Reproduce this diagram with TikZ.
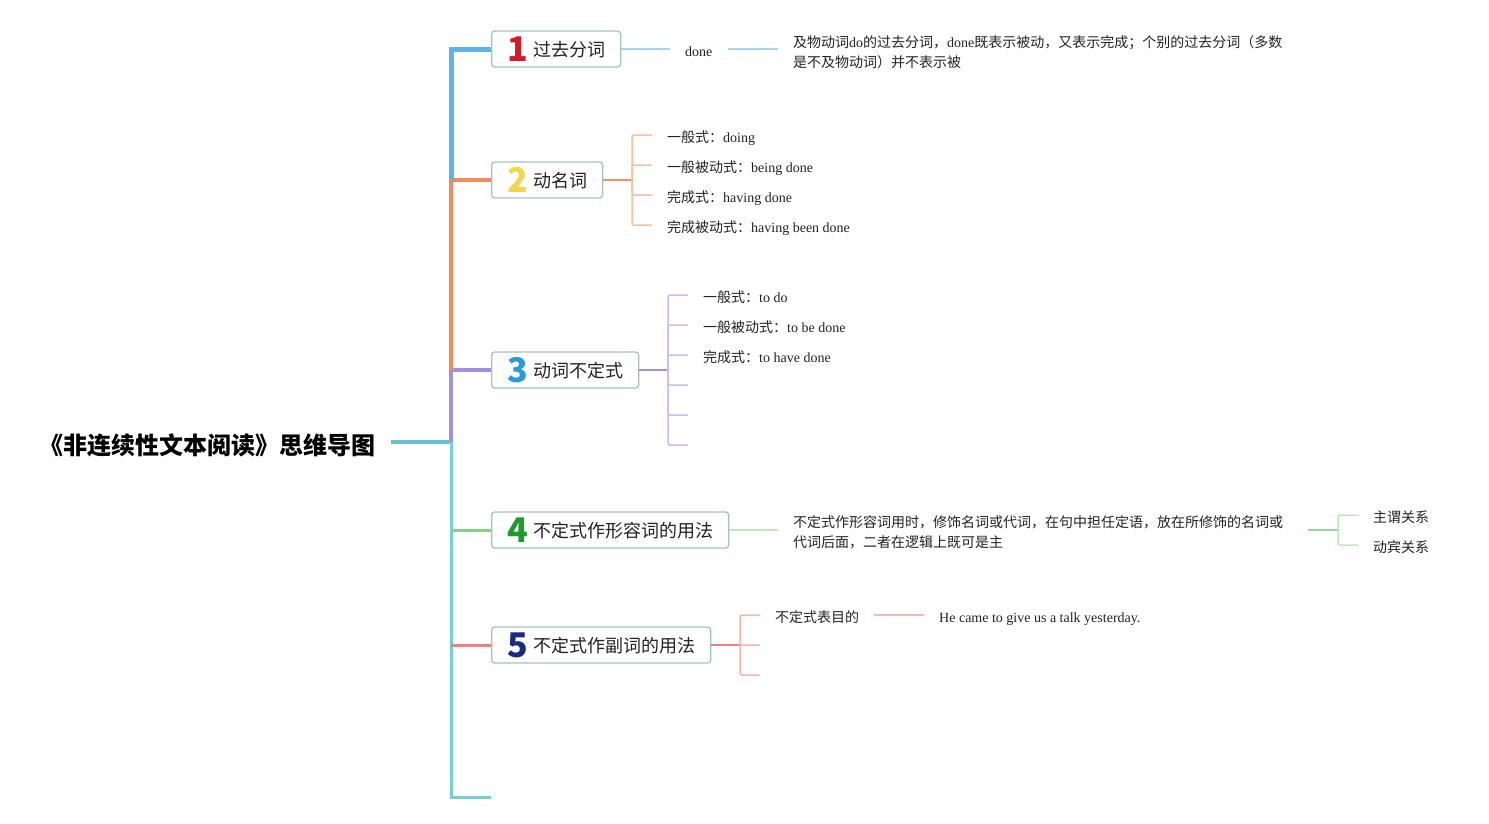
\documentclass[tikz,border=0pt]{standalone}
\usepackage{fontspec}
\setmainfont{Liberation Serif}
\newfontfamily\zhfont{Noto Sans CJK SC}
\newcommand\zh[1]{{\zhfont #1}}
\definecolor{txt}{HTML}{222222}
\definecolor{boxc}{HTML}{A3C4BC}
\definecolor{cblue}{HTML}{5EB2E6}
\definecolor{cbluel}{HTML}{A9D2EE}
\definecolor{corange}{HTML}{EE8C5E}
\definecolor{corangem}{HTML}{E8956C}
\definecolor{corangel}{HTML}{F7BFA3}
\definecolor{cpurple}{HTML}{A38FE0}
\definecolor{cpurplem}{HTML}{A68FD8}
\definecolor{cpurplel}{HTML}{CBBDEA}
\definecolor{cteal}{HTML}{74CED4}
\definecolor{ctealt}{HTML}{6CC0CE}
\definecolor{cgreen}{HTML}{86D08A}
\definecolor{cgreenm}{HTML}{9BD39B}
\definecolor{cgreenl}{HTML}{C2E6BC}
\definecolor{cred}{HTML}{F08080}
\definecolor{credl}{HTML}{F5B6B6}
\definecolor{dred}{HTML}{D7182A}
\definecolor{dyellow}{HTML}{F2D64B}
\definecolor{dblue}{HTML}{2A9AD8}
\definecolor{dgreen}{HTML}{1E9A2E}
\definecolor{dnavy}{HTML}{1B2A80}
\newcommand\numd[2]{\raisebox{-5pt}{\color{#1}\zhfont\bfseries\fontsize{34}{34}\selectfont #2}\hspace{5pt}}
\tikzset{
  topic/.style={draw=boxc, line width=1.3pt, rounded corners=3pt, fill=white,
    minimum height=36pt, anchor=west, inner xsep=0pt, inner ysep=0pt,
    font=\zhfont\fontsize{18}{20}\selectfont, text=txt},
  leaf/.style={anchor=west, inner xsep=15pt, inner ysep=0pt,
    font=\fontsize{14}{20}\selectfont, text=txt, align=left},
  leafone/.style={leaf, text height=16.5pt, text depth=2pt},
  brk/.style={line width=1.5pt, rounded corners=1.5pt},
}
\begin{document}
\begin{tikzpicture}[x=1pt,y=-1pt]
\path[use as bounding box] (0,0) rectangle (1489,823);

% title
\node[anchor=base east, inner xsep=15pt, inner ysep=0pt, text=black,
  font=\zhfont\bfseries\fontsize{24}{26}\selectfont] (title) at (391,454)
  {《非连续性文本阅读》思维导图};

% trunk coordinates
\coordinate (t1) at (451,49);
\coordinate (t2) at (451,180);
\coordinate (t3) at (451,370);
\coordinate (t0) at (451,442);
\coordinate (t4) at (451,530);
\coordinate (t5) at (451,645);
\coordinate (t6) at (451,797);
\coordinate (e6) at (491,797);

% topic boxes
\node[topic, minimum width=129pt] (b1) at (491,49) {\numd{dred}{1}过去分词};
\node[topic, minimum width=111pt] (b2) at (491,180) {\numd{dyellow}{2}动名词};
\node[topic, minimum width=147pt] (b3) at (491,370) {\numd{dblue}{3}动词不定式};
\node[topic, minimum width=237pt] (b4) at (491,530) {\numd{dgreen}{4}不定式作形容词的用法};
\node[topic, minimum width=219pt] (b5) at (491,645) {\numd{dnavy}{5}不定式作副词的用法};

% trunk lines
\draw[ctealt, line width=4pt] (title.east |- t0) -- (t0);
\draw[cteal, line width=3pt] (t0) -- (t6) -- (e6);
\draw[cpurple, line width=4pt] (t0) -- (t3) -- (b3.west);
\draw[corange, line width=3.5pt] (t3) -- (t2) -- (b2.west);
\draw[cblue, line width=5pt] (t2) -- (t1) -- (b1.west);
\draw[cgreen, line width=3pt] (t4) -- (b4.west);
\draw[cred, line width=3pt] (t5) -- (b5.west);

% branch 1
\node[leafone] (l10) at (670,49) {done};
\node[leaf] (l11) at (778,52) {\zh{及物动词}do\zh{的过去分词，}done\zh{既表示被动，又表示完成；个别的过去分词（多数}\\\zh{是不及物动词）并不表示被}};
\draw[cbluel, line width=1.5pt] (b1.east) -- (l10.west);
\draw[cbluel, line width=1.5pt] (l10.east) -- (l11.west |- l10.west);

% branch 2
\coordinate (k2) at (632,180);
\node[leafone] (l21) at (652,135) {\zh{一般式：}doing};
\node[leafone] (l22) at (652,165) {\zh{一般被动式：}being done};
\node[leafone] (l23) at (652,195) {\zh{完成式：}having done};
\node[leafone] (l24) at (652,225) {\zh{完成被动式：}having been done};
\draw[corangem, line width=2pt] (b2.east) -- (k2);
\foreach \n in {l21,l22,l23,l24} \draw[corangel, brk] (k2) |- (\n.west);

% branch 3
\coordinate (k3) at (668,370);
\node[leafone] (l31) at (688,295) {\zh{一般式：}to do};
\node[leafone] (l32) at (688,325) {\zh{一般被动式：}to be done};
\node[leafone] (l33) at (688,355) {\zh{完成式：}to have done};
\coordinate (l34) at (688,385);
\coordinate (l35) at (688,415);
\coordinate (l36) at (688,445);
\draw[cpurplem, line width=2pt] (b3.east) -- (k3);
\foreach \n in {l31,l32,l33} \draw[cpurplel, brk] (k3) |- (\n.west);
\foreach \n in {l34,l35,l36} \draw[cpurplel, brk] (k3) |- (\n);

% branch 4
\node[leaf, text width=490pt] (l41) at (778,532) {\zh{不定式作形容词用时，修饰名词或代词，在句中担任定语，放在所修饰的名词或}\\\zh{代词后面，二者在逻辑上既可是主}};
\coordinate (k4) at (1338,530);
\node[leafone] (l42) at (1358,515) {\zh{主谓关系}};
\node[leafone] (l43) at (1358,545) {\zh{动宾关系}};
\draw[cgreenl, line width=1.5pt] (b4.east) -- (l41.west |- b4.east);
\draw[cgreenm, line width=1.5pt] ([xshift=10pt]l41.east |- k4) -- (k4);
\foreach \n in {l42,l43} \draw[cgreenl, brk] (k4) |- (\n.west);

% branch 5
\coordinate (k5) at (740,645);
\node[leafone] (l51) at (760,615) {\zh{不定式表目的}};
\coordinate (l53) at (760,645);
\coordinate (l54) at (760,675);
\node[leafone] (l52) at (924,615) {He came to give us a talk yesterday.};
\draw[cred, line width=2pt] (b5.east) -- (k5);
\draw[credl, brk] (k5) |- (l51.west);
\draw[credl, brk] (k5) |- (l53);
\draw[credl, brk] (k5) |- (l54);
\draw[credl, line width=1.5pt] (l51.east) -- (l52.west);
\end{tikzpicture}
\end{document}
